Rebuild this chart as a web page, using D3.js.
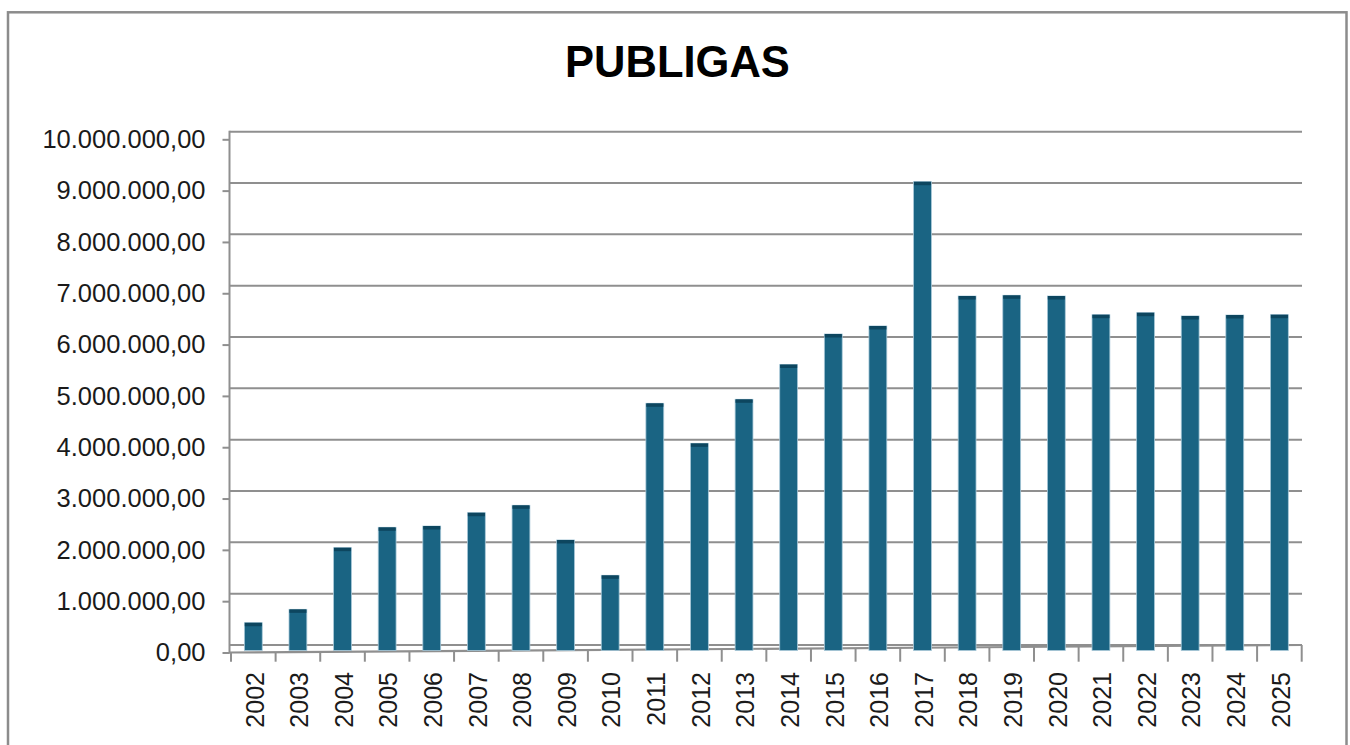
<!DOCTYPE html>
<html>
<head>
<meta charset="utf-8">
<script src="https://cdn.jsdelivr.net/npm/d3@7"></script>
<style>
  html, body { margin: 0; padding: 0; background: #ffffff; }
  svg { display: block; }
  text { font-family: "Liberation Sans", Arial, Helvetica, sans-serif; fill: #1a1a1a; }
</style>
</head>
<body>
<svg id="chart" width="1350" height="745"></svg>
<script>
const title = "PUBLIGAS";
const years = ["2002","2003","2004","2005","2006","2007","2008","2009","2010","2011","2012","2013",
               "2014","2015","2016","2017","2018","2019","2020","2021","2022","2023","2024","2025"];
const values = [434000, 695000, 1896000, 2293000, 2318000, 2577000, 2722000, 2046000, 1358000, 4709000,
                3929000, 4787000, 5465000, 6059000, 6215000, 9026000, 6799000, 6813000, 6799000, 6435000,
                6474000, 6410000, 6429000, 6435000];
const yTicks = [0, 1000000, 2000000, 3000000, 4000000, 5000000, 6000000, 7000000, 8000000, 9000000, 10000000];

const svg = d3.select("#chart");

// chart frame
svg.append("rect")
  .attr("x", 8).attr("y", 12.3).attr("width", 1338.5).attr("height", 800)
  .attr("fill", "none").attr("stroke", "#8c8c8c").attr("stroke-width", 2.5);

// title
svg.append("text")
  .attr("x", 677.5).attr("y", 77)
  .attr("text-anchor", "middle")
  .style("font-size", "43.5px").style("font-weight", "bold").style("fill", "#000")
  .text(title);

const locale = d3.formatLocale({decimal: ",", thousands: ".", grouping: [3], currency: ["", ""]});
const fmt = locale.format(",.2f");

// scales: back wall (gridlines, bar tops) and front axis (tick labels)
const yWall = d3.scaleLinear().domain([0, 10000000]).range([645, 131.7]);
const yAxisScale = d3.scaleLinear().domain([0, 10000000]).range([652.5, 139.3]);
const x = d3.scaleBand().domain(years).range([231, 1301.7]).paddingInner(0.6).paddingOuter(0.3);

const wallLeft = 229.5, wallRight = 1302;
const gridColor = "#8f8f8f";

// gridlines on back wall
svg.append("g").selectAll("line").data(yTicks).join("line")
  .attr("x1", wallLeft).attr("x2", wallRight)
  .attr("y1", d => yWall(d)).attr("y2", d => yWall(d))
  .attr("stroke", gridColor).attr("stroke-width", 2);

// left wall line
svg.append("line")
  .attr("x1", wallLeft).attr("x2", wallLeft)
  .attr("y1", yWall(10000000) - 1).attr("y2", yAxisScale(0) + 1)
  .attr("stroke", gridColor).attr("stroke-width", 2);

// y axis (ticks + labels)
const yAxis = d3.axisLeft(yAxisScale).tickValues(yTicks).tickFormat(fmt).tickSize(7).tickPadding(17);
const gy = svg.append("g").attr("transform", `translate(${wallLeft},0)`).call(yAxis);
gy.select(".domain").remove();
gy.selectAll(".tick line").attr("stroke", gridColor).attr("stroke-width", 2);
gy.selectAll(".tick text").style("font-size", "25.5px").attr("fill", "#1a1a1a");

// sloped front axis line (3D floor edge)
const axisY = xx => 652.5 + (645 - 652.5) * (xx - wallLeft) / (wallRight - wallLeft);
svg.append("line")
  .attr("x1", wallLeft).attr("y1", axisY(wallLeft))
  .attr("x2", wallRight).attr("y2", axisY(wallRight))
  .attr("stroke", gridColor).attr("stroke-width", 2.2);

// x ticks at category boundaries
const step = x.step();
const boundaries = d3.range(years.length + 1).map(i => 231 + i * step);
svg.append("g").selectAll("line").data(boundaries).join("line")
  .attr("x1", d => d).attr("x2", d => d)
  .attr("y1", d => axisY(d)).attr("y2", 661.7)
  .attr("stroke", gridColor).attr("stroke-width", 2);

// bars
const data = years.map((y, i) => ({year: y, value: values[i]}));
const barBottom = 650.5;
const topDepth = 3.5;
const bars = svg.append("g");
bars.selectAll("rect.front").data(data).join("rect")
  .attr("class", "front")
  .attr("x", d => x(d.year))
  .attr("y", d => yWall(d.value))
  .attr("width", x.bandwidth())
  .attr("height", d => barBottom - yWall(d.value))
  .attr("fill", "#1a6483")
  .attr("stroke", "#a8c8d8").attr("stroke-width", 0.8);
bars.selectAll("rect.top").data(data).join("rect")
  .attr("class", "top")
  .attr("x", d => x(d.year) + 0.4)
  .attr("y", d => yWall(d.value))
  .attr("width", x.bandwidth() - 0.8)
  .attr("height", topDepth)
  .attr("fill", "#0d465f");

// x labels
svg.append("g").selectAll("text").data(years).join("text")
  .attr("transform", d => `translate(${x(d) + x.bandwidth() / 2 + 1.5},672) rotate(-90)`)
  .attr("text-anchor", "end")
  .attr("dy", "0.35em")
  .style("font-size", "25px")
  .text(d => d);
</script>
</body>
</html>
